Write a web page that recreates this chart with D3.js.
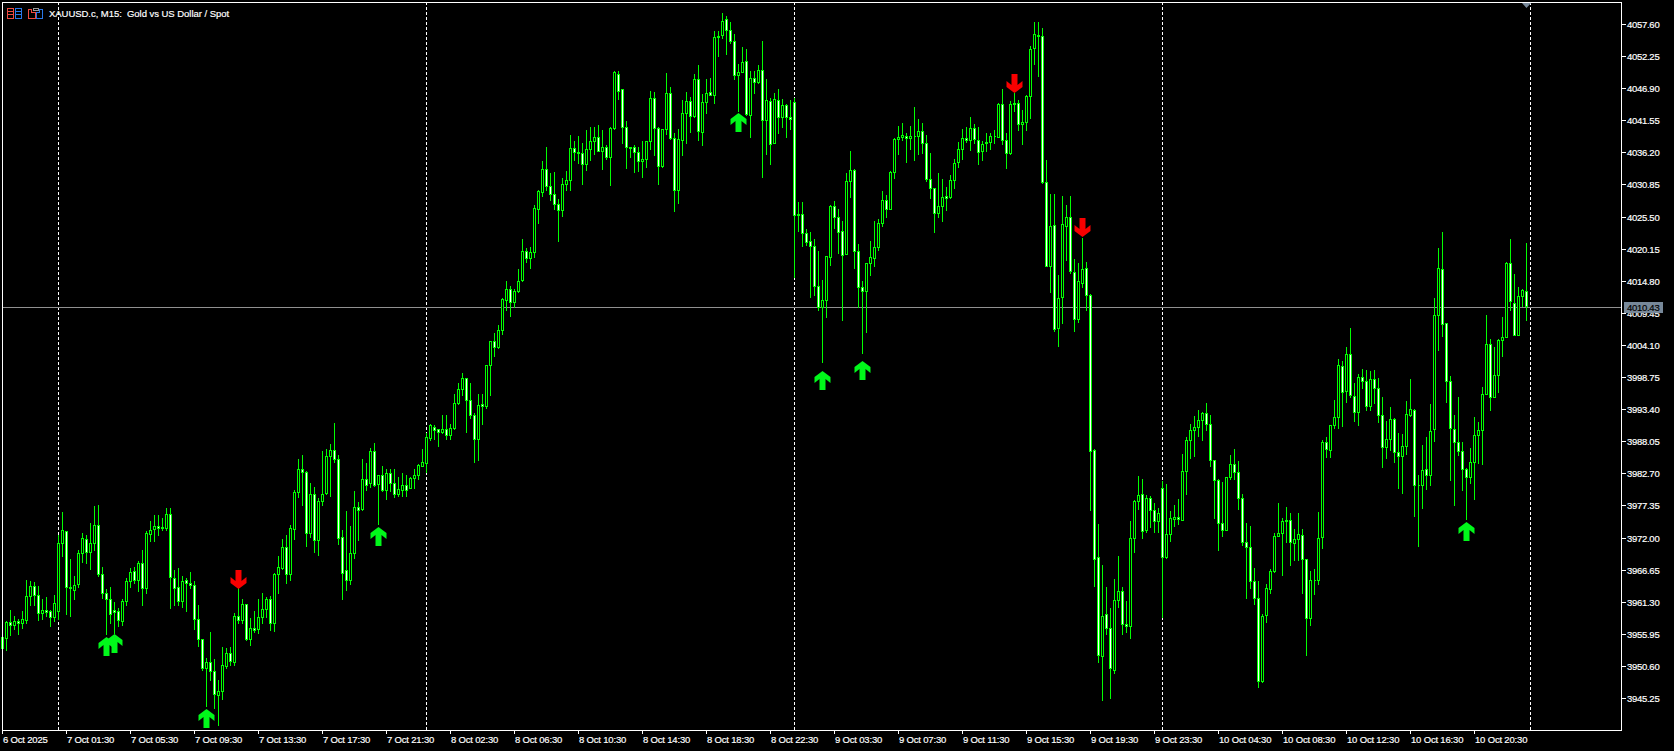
<!DOCTYPE html>
<html><head><meta charset="utf-8">
<script src="https://cdn.jsdelivr.net/npm/d3@7/dist/d3.min.js"></script>
<style>
html,body{margin:0;padding:0;background:#000;overflow:hidden}
svg{display:block}
text{font-family:"Liberation Sans",Arial,sans-serif;font-size:9.5px;letter-spacing:-0.28px;fill:#fff;stroke:#fff;stroke-width:.18px;white-space:pre}
</style></head><body>
<script>
const title = "XAUUSD.c, M15:  Gold vs US Dollar / Spot";
const currentPrice = 4010.43;
const priceTicks = [4057.60,4052.25,4046.90,4041.55,4036.20,4030.85,4025.50,4020.15,4014.80,4009.45,4004.10,3998.75,3993.40,3988.05,3982.70,3977.35,3972.00,3966.65,3961.30,3955.95,3950.60,3945.25];
const timeLabels = ["6 Oct 2025","7 Oct 01:30","7 Oct 05:30","7 Oct 09:30","7 Oct 13:30","7 Oct 17:30","7 Oct 21:30","8 Oct 02:30","8 Oct 06:30","8 Oct 10:30","8 Oct 14:30","8 Oct 18:30","8 Oct 22:30","9 Oct 03:30","9 Oct 07:30","9 Oct 11:30","9 Oct 15:30","9 Oct 19:30","9 Oct 23:30","10 Oct 04:30","10 Oct 08:30","10 Oct 12:30","10 Oct 16:30","10 Oct 20:30"];
const dayBreaks = [14,106,198,290,382];
const upSignalBars = [26,28,51,94,184,205,215,366];
const upSignalPrices = [3955.4,3955.9,3943.4,3973.8,4042.8,3999.8,4001.4,3974.6];
const downSignalBars = [59,253,270];
const downSignalPrices = [3963.4,4046.1,4022.1];

const open = [3953.6,3955.3,3957.9,3957.5,3958.1,3957.8,3958.3,3962.3,3963.9,3962.4,
3959.5,3959.9,3959.7,3958.7,3959.7,3971.1,3973.1,3963.8,3963.3,3964.2,
3969.5,3971.8,3969.6,3971.1,3974.1,3965.9,3962.8,3961.8,3959.9,3959.8,
3958.1,3961.5,3964.7,3966.5,3964.9,3967.8,3963.6,3972.6,3973.5,3973.9,
3973.7,3973.6,3976.0,3965.2,3963.8,3961.4,3965.0,3964.5,3964.1,3958.5,
3955.1,3950.3,3951.3,3949.8,3945.8,3946.5,3950.6,3952.8,3951.3,3958.9,
3958.2,3961.0,3955.1,3956.9,3956.8,3958.8,3960.1,3961.8,3957.8,3966.0,
3967.0,3970.5,3965.9,3973.5,3979.6,3983.5,3983.0,3972.8,3979.3,3971.6,
3978.1,3979.4,3985.6,3986.6,3985.1,3972.1,3966.6,3965.0,3969.4,3977.1,
3976.7,3981.8,3981.1,3986.5,3980.9,3982.5,3980.0,3982.7,3981.1,3979.2,
3980.0,3980.8,3980.2,3981.9,3982.4,3984.0,3984.4,3988.6,3990.5,3990.1,
3989.6,3990.1,3989.1,3990.3,3994.4,3996.7,3998.6,3995.0,3992.5,3988.5,
3994.3,3993.9,4000.8,4004.8,4003.7,4006.6,4011.6,4013.5,4011.2,4013.1,
4015.0,4019.7,4018.6,4019.6,4026.8,4029.6,4033.5,4030.6,4029.2,4027.6,
4026.6,4030.9,4031.6,4036.9,4036.3,4036.1,4034.3,4036.8,4038.1,4038.8,
4036.4,4037.1,4035.4,4040.2,4049.3,4046.7,4040.5,4037.1,4037.1,4036.2,
4034.7,4035.1,4038.1,4045.3,4040.3,4033.9,4040.1,4046.1,4038.6,4029.9,
4038.2,4042.8,4044.8,4042.2,4048.4,4039.6,4044.6,4046.2,4045.7,4055.6,
4055.7,4058.4,4056.6,4054.7,4049.1,4049.6,4051.5,4042.4,4048.6,4047.9,
4050.0,4041.6,4044.7,4037.8,4045.0,4042.1,4044.1,4042.1,4044.6,4026.0,
4026.0,4022.8,4021.5,4020.6,4014.0,4010.5,4011.6,4018.8,4027.3,4025.5,
4023.1,4019.2,4031.5,4033.3,4019.8,4013.8,4013.1,4017.8,4018.6,4020.5,
4024.5,4028.3,4026.8,4033.0,4038.4,4038.8,4038.9,4038.6,4039.0,4038.9,
4039.8,4037.8,4031.8,4030.2,4026.1,4027.2,4028.9,4028.7,4031.6,4034.6,
4036.8,4038.6,4038.3,4040.3,4038.3,4036.4,4037.9,4037.9,4038.9,4038.7,
4044.3,4038.3,4036.1,4044.5,4044.5,4040.9,4041.3,4045.6,4053.6,4055.8,
4055.6,4031.2,4017.2,4024.1,4006.9,4012.1,4023.9,4025.5,4016.2,4008.4,
4014.5,4017.0,4012.5,3986.6,3968.8,3952.2,3959.3,3956.9,3949.9,3961.6,
3963.1,3957.6,3957.2,3971.9,3978.1,3979.2,3973.2,3978.6,3976.6,3974.7,
3980.3,3968.7,3972.6,3975.1,3975.5,3975.0,3983.1,3988.3,3990.0,3990.4,
3991.6,3992.8,3991.0,3985.0,3981.6,3974.5,3973.2,3982.1,3984.3,3983.0,
3978.6,3971.3,3970.5,3964.7,3962.0,3948.1,3959.1,3963.5,3966.4,3972.3,
3972.8,3975.0,3975.0,3971.1,3971.8,3972.5,3968.5,3958.6,3964.9,3964.9,
3972.1,3988.0,3986.6,3990.8,3992.1,4000.6,3996.4,4002.6,3995.6,3992.9,
3998.8,3998.1,3993.9,3998.5,3996.9,3992.5,3987.1,3988.5,3991.7,3986.3,
3985.6,3987.2,3992.5,3993.2,3980.8,3980.8,3983.5,3982.5,3990.1,4009.1,
4016.8,4007.7,3998.1,3990.1,3988.0,3986.5,3983.5,3982.1,3984.6,3989.1,
3990.0,3995.9,4004.3,3995.5,3999.1,4005.0,4005.5,4017.8,4011.1,4005.7,
4012.3,4013.1];

const high = [3955.4,3958.1,3960.0,3959.0,3958.5,3959.7,3965.0,3964.7,3964.6,3964.0,
3961.7,3962.1,3960.0,3962.5,3972.5,3976.3,3973.1,3968.5,3965.6,3970.0,
3972.7,3972.5,3974.5,3977.3,3977.5,3967.1,3963.5,3963.8,3961.3,3960.3,
3961.7,3965.2,3967.0,3967.1,3968.1,3969.9,3973.1,3974.7,3975.7,3975.7,
3975.3,3977.0,3977.0,3966.6,3967.0,3965.6,3965.3,3966.2,3964.7,3960.8,
3955.1,3952.0,3956.3,3951.7,3948.3,3953.7,3953.6,3953.7,3959.5,3963.6,
3961.8,3961.0,3958.6,3959.8,3961.7,3962.8,3962.1,3962.2,3966.1,3969.0,
3971.8,3972.5,3974.1,3980.0,3985.1,3985.7,3983.1,3981.1,3980.5,3978.6,
3986.5,3986.8,3987.6,3991.1,3985.7,3973.2,3976.4,3973.9,3979.7,3978.0,
3985.1,3984.5,3987.0,3987.8,3982.5,3984.0,3983.4,3983.4,3983.5,3982.1,
3982.8,3982.5,3982.1,3983.5,3984.2,3986.7,3989.4,3990.9,3990.7,3990.1,
3992.4,3992.4,3991.0,3996.0,3997.7,3999.4,3998.6,3997.8,3992.7,3995.9,
3996.0,4000.8,4004.8,4006.1,4007.4,4011.9,4014.7,4013.9,4013.4,4016.7,
4021.7,4020.3,4020.5,4027.4,4029.9,4034.7,4037.1,4032.8,4033.0,4028.4,
4032.0,4033.1,4039.1,4038.1,4038.9,4037.8,4039.9,4040.4,4040.4,4040.7,
4040.0,4037.5,4040.5,4049.7,4049.7,4046.8,4041.4,4037.1,4037.5,4037.1,
4038.1,4038.1,4046.5,4046.3,4040.5,4040.1,4049.5,4047.1,4039.4,4040.1,
4045.0,4046.3,4045.5,4049.3,4050.8,4045.9,4048.5,4048.6,4056.5,4056.4,
4059.4,4059.0,4058.0,4056.0,4050.9,4053.7,4053.4,4049.7,4049.7,4050.7,
4054.8,4048.5,4045.3,4046.1,4046.7,4045.1,4044.2,4045.0,4045.3,4027.9,
4028.0,4023.5,4022.9,4021.7,4019.7,4015.0,4019.0,4027.5,4028.1,4026.7,
4024.7,4032.8,4036.5,4033.4,4021.0,4014.7,4017.8,4021.5,4024.7,4025.1,
4029.7,4029.1,4033.1,4038.6,4040.6,4041.1,4039.4,4040.6,4043.8,4041.7,
4041.1,4039.1,4036.1,4030.2,4032.8,4031.7,4030.5,4032.5,4035.1,4038.0,
4040.1,4040.5,4042.1,4040.9,4040.4,4038.1,4039.5,4039.5,4040.0,4044.4,
4046.8,4039.4,4044.8,4046.1,4044.9,4043.2,4045.7,4053.9,4058.0,4057.9,
4056.9,4034.9,4029.2,4029.2,4015.7,4028.9,4027.4,4028.9,4018.5,4017.7,
4021.9,4018.0,4012.6,3986.7,3974.3,3967.5,3963.7,3960.2,3965.1,3968.9,
3963.8,3961.5,3974.7,3978.3,3982.2,3981.7,3979.1,3978.9,3977.8,3977.0,
3981.5,3980.9,3976.5,3977.4,3978.5,3986.0,3988.7,3991.0,3992.3,3993.2,
3993.0,3994.5,3992.5,3985.0,3981.8,3981.3,3982.1,3985.8,3986.8,3984.8,
3979.3,3974.5,3974.0,3967.0,3964.7,3959.2,3964.2,3966.8,3972.8,3977.8,
3975.2,3977.1,3976.1,3973.5,3976.1,3973.5,3968.5,3966.5,3966.8,3976.3,
3988.3,3988.8,3990.8,3995.0,4001.7,4001.4,4003.7,4006.9,3997.7,3999.2,
4000.1,4000.0,3999.7,3999.9,3998.6,3995.4,3991.5,3993.7,3991.9,3989.5,
3989.2,3994.7,3998.4,3993.4,3982.5,3987.4,3988.7,3994.2,4012.0,4020.2,
4023.0,4007.8,3999.0,3992.5,3995.4,3988.0,3983.6,3987.0,3992.1,3991.2,
3997.1,4009.1,4005.1,4003.8,4005.1,4008.7,4017.9,4021.7,4015.9,4013.8,
4013.5,4021.1];

const low = [3952.0,3953.2,3955.7,3956.8,3956.0,3957.0,3957.8,3960.8,3960.8,3958.3,
3958.5,3958.9,3957.3,3958.1,3958.5,3968.9,3959.2,3958.9,3961.7,3963.8,
3967.9,3967.8,3966.7,3970.0,3965.6,3962.0,3956.0,3957.7,3956.1,3957.3,
3957.5,3960.8,3963.8,3964.5,3963.1,3960.8,3962.8,3971.4,3971.4,3972.5,
3973.3,3973.3,3960.3,3960.7,3960.7,3960.5,3959.7,3963.6,3956.7,3953.9,
3949.9,3943.9,3948.3,3943.5,3940.8,3945.0,3950.3,3950.8,3950.8,3957.7,
3957.8,3955.0,3954.1,3956.3,3956.1,3957.8,3958.8,3956.6,3956.4,3962.8,
3966.8,3964.4,3965.0,3971.7,3978.7,3977.5,3970.6,3972.1,3969.6,3969.1,
3977.5,3979.3,3979.0,3984.6,3971.0,3961.7,3963.2,3964.2,3968.6,3971.6,
3976.6,3980.0,3980.5,3980.6,3974.2,3979.7,3978.4,3979.7,3978.7,3979.0,
3979.0,3979.0,3980.2,3980.2,3981.8,3983.9,3982.9,3988.2,3988.5,3987.2,
3989.5,3988.5,3988.5,3990.1,3994.2,3995.7,3989.6,3992.0,3984.6,3984.9,
3991.0,3993.6,3995.7,4002.2,4003.6,4006.0,4010.0,4008.9,4010.5,4012.9,
4014.7,4017.9,4017.0,4018.7,4024.5,4028.9,4030.0,4028.2,4026.7,4021.4,
4025.6,4030.0,4030.0,4035.0,4034.5,4031.0,4033.2,4035.0,4036.0,4036.4,
4033.4,4035.1,4030.7,4040.1,4045.1,4037.8,4033.6,4035.4,4033.0,4033.1,
4032.1,4033.7,4036.7,4035.7,4031.0,4033.7,4039.2,4038.4,4026.4,4027.7,
4035.7,4037.7,4039.6,4042.1,4038.2,4037.4,4042.7,4045.7,4044.4,4052.2,
4055.2,4052.6,4054.5,4048.4,4043.1,4049.6,4042.5,4038.7,4046.1,4047.7,
4032.1,4035.9,4034.2,4037.7,4039.5,4040.5,4038.7,4040.1,4015.5,4023.1,
4020.6,4020.7,4012.1,4012.4,4010.0,4001.2,4008.8,4017.5,4023.6,4019.5,
4008.2,4019.2,4028.7,4017.0,4010.5,4002.8,4006.2,4015.7,4017.2,4020.0,
4023.9,4025.4,4026.7,4031.9,4036.0,4038.2,4034.6,4036.7,4035.0,4036.0,
4036.1,4031.4,4028.6,4022.9,4025.5,4024.7,4026.6,4028.6,4030.2,4033.7,
4035.1,4038.0,4036.6,4037.7,4034.2,4034.9,4036.4,4036.7,4037.8,4038.7,
4037.6,4033.6,4036.0,4043.1,4040.0,4037.6,4039.9,4041.9,4051.0,4048.9,
4031.1,4017.2,4012.9,4006.4,4004.0,4007.7,4018.2,4016.1,4006.4,4008.0,
4013.8,4009.9,3976.6,3963.9,3951.2,3944.9,3955.9,3945.2,3949.4,3960.4,
3955.9,3956.3,3955.2,3969.6,3976.7,3971.9,3973.0,3973.8,3973.0,3973.0,
3958.8,3968.6,3971.5,3973.9,3974.3,3974.9,3979.2,3985.2,3985.6,3988.9,
3988.2,3989.9,3983.9,3975.3,3970.0,3972.3,3973.2,3981.7,3981.8,3976.7,
3970.8,3962.0,3963.6,3960.9,3947.1,3948.0,3957.9,3962.7,3966.2,3972.2,
3965.7,3971.3,3967.5,3968.2,3968.3,3962.8,3952.5,3957.5,3962.6,3964.3,
3970.2,3985.5,3985.4,3990.2,3990.2,3990.6,3994.6,3995.5,3991.4,3990.7,
3996.9,3993.2,3993.2,3994.5,3991.2,3983.7,3985.2,3986.6,3984.6,3980.2,
3979.4,3986.0,3992.2,3975.6,3970.6,3976.9,3980.1,3980.7,3988.1,4003.2,
4005.6,3994.6,3981.6,3977.4,3985.8,3979.9,3975.1,3981.1,3978.5,3984.5,
3984.2,3995.9,3993.2,3995.4,3996.2,4002.2,4005.5,4009.9,4005.7,4005.7,
4010.6,4008.2];

const close = [3955.35,3958.0,3957.5,3958.1,3957.7,3958.5,3962.3,3964.0,3962.5,3959.4,
3959.9,3959.6,3958.8,3961.1,3971.1,3973.2,3963.8,3963.6,3964.1,3969.5,
3971.9,3969.6,3971.1,3974.1,3965.9,3962.8,3961.8,3959.2,3959.6,3958.2,
3961.5,3964.8,3966.3,3964.9,3967.8,3963.6,3972.7,3973.3,3973.9,3973.6,
3973.6,3976.0,3965.5,3963.6,3961.4,3964.8,3964.5,3964.1,3958.5,3955.1,
3950.2,3951.3,3949.8,3945.9,3946.5,3950.7,3952.7,3951.4,3959.0,3958.2,
3961.0,3955.1,3957.0,3956.6,3958.8,3960.1,3961.8,3957.8,3966.0,3967.1,
3970.5,3965.9,3973.6,3979.6,3983.5,3982.9,3972.7,3979.3,3971.6,3978.1,
3979.3,3985.6,3986.6,3985.1,3971.9,3966.1,3965.0,3969.5,3977.1,3976.6,
3981.8,3980.7,3986.5,3980.8,3982.5,3980.0,3982.7,3981.1,3979.3,3980.1,
3980.8,3980.0,3982.0,3982.5,3984.1,3984.6,3988.7,3990.7,3990.0,3989.6,
3990.1,3989.1,3990.3,3994.5,3996.8,3998.6,3995.0,3992.4,3988.5,3994.1,
3993.9,4000.8,4004.8,4003.8,4006.6,4011.7,4013.5,4011.2,4013.1,4014.8,
4019.8,4018.6,4019.6,4027.0,4029.7,4033.5,4030.6,4029.2,4027.6,4026.6,
4031.0,4031.6,4037.0,4036.2,4036.1,4034.3,4036.8,4038.1,4038.8,4036.4,
4037.1,4035.4,4040.3,4049.6,4046.4,4040.5,4037.1,4037.0,4036.2,4034.7,
4035.1,4038.1,4045.3,4040.3,4033.9,4040.1,4046.1,4038.6,4029.9,4038.5,
4042.8,4044.8,4042.2,4048.4,4039.7,4044.6,4046.1,4045.7,4055.5,4055.5,
4058.1,4056.6,4054.7,4049.1,4049.6,4051.3,4042.6,4048.6,4047.9,4050.0,
4041.6,4045.0,4037.6,4045.1,4042.1,4044.1,4042.1,4041.8,4025.8,4025.8,
4022.8,4021.3,4020.6,4014.0,4010.5,4011.6,4018.9,4027.3,4025.5,4023.0,
4019.1,4031.5,4033.3,4019.8,4013.8,4013.1,4017.8,4018.8,4020.5,4024.5,
4028.3,4026.8,4033.0,4038.5,4038.8,4039.1,4038.6,4039.0,4039.0,4039.8,
4037.8,4031.7,4030.2,4026.1,4027.2,4028.8,4028.6,4031.6,4034.5,4036.8,
4038.6,4038.3,4040.3,4038.5,4036.2,4037.6,4037.7,4038.9,4038.9,4044.3,
4038.2,4036.1,4044.3,4044.2,4040.9,4041.3,4045.6,4053.5,4056.0,4055.6,
4031.2,4017.2,4024.0,4006.8,4011.9,4024.3,4025.5,4016.4,4008.4,4014.8,
4016.8,4012.5,3986.5,3968.5,3952.4,3959.0,3956.9,3950.2,3961.6,3963.1,
3957.6,3957.2,3972.0,3978.1,3979.1,3973.1,3978.6,3976.6,3974.7,3976.1,
3968.7,3972.6,3975.3,3975.5,3975.1,3983.1,3988.3,3990.0,3990.5,3991.6,
3992.8,3990.9,3985.0,3981.6,3974.5,3973.2,3982.1,3984.3,3982.9,3978.6,
3971.2,3970.4,3964.7,3962.0,3948.1,3959.0,3963.6,3966.5,3972.3,3972.8,
3974.8,3974.7,3971.2,3971.8,3972.6,3968.5,3958.6,3965.0,3965.0,3972.0,
3988.0,3986.7,3990.8,3992.1,4000.7,3996.2,4002.6,3995.7,3992.9,3998.8,
3998.1,3993.9,3998.5,3996.9,3992.4,3987.1,3988.5,3991.7,3986.2,3985.6,
3987.3,3992.6,3993.5,3980.8,3980.7,3983.3,3982.5,3989.8,4009.1,4017.0,
4007.6,3998.1,3990.3,3988.0,3986.5,3983.5,3982.1,3984.6,3989.1,3990.0,
3996.0,4004.3,3995.5,3999.1,4005.0,4005.5,4017.8,4011.4,4005.7,4012.3,
4013.2,4010.6];

const W = 1674, H = 751, L = 2, R = 1621, T = 2, B = 730;
const x = d3.scaleLinear().domain([0, 1]).range([2, 6]);
const y = d3.scaleLinear().domain([4057.6, 3945.25]).rangeRound([24, 698]);

const svg = d3.select("body").append("svg").attr("width", W).attr("height", H)
  .style("background", "#000");

// period separators
svg.append("g").selectAll("line").data(dayBreaks).join("line")
  .attr("x1", d => x(d) + .5).attr("x2", d => x(d) + .5)
  .attr("y1", T).attr("y2", B)
  .attr("stroke", "#fff").attr("stroke-dasharray", "3,2").attr("shape-rendering", "crispEdges");

// bid line
svg.append("line").attr("x1", L).attr("x2", R)
  .attr("y1", y(currentPrice) + .5).attr("y2", y(currentPrice) + .5)
  .attr("stroke", "#909090").attr("shape-rendering", "crispEdges");

// candles
const idx = d3.range(open.length);
const g = svg.append("g").attr("shape-rendering", "crispEdges");
g.selectAll("line").data(idx).join("line")
  .attr("x1", i => x(i) + .5).attr("x2", i => x(i) + .5)
  .attr("y1", i => y(high[i])).attr("y2", i => y(low[i]) + 1)
  .attr("stroke", "#00ff00");
g.selectAll("path").data(idx).join("path")
  .attr("d", i => {
    const t = y(Math.max(open[i], close[i])) + .5, b = y(Math.min(open[i], close[i])) + .5, l = x(i) - .5;
    return `M${l},${t}H${l + 2}V${b}H${l}Z`;
  })
  .attr("fill", i => close[i] < open[i] ? "#fff" : "#000")
  .attr("stroke", "#00ff00");

// signal arrows
const upArrow = "M0,0L8,6V12L3,8V19H-3V8L-8,12V6Z";
const downArrow = "M0,0L8,-6V-12L3,-8V-19H-3V-8L-8,-12V-6Z";
svg.append("g").selectAll("path").data(upSignalBars).join("path")
  .attr("d", upArrow).attr("fill", "#00f81a")
  .attr("transform", (d, i) => `translate(${x(d) + .5},${y(upSignalPrices[i])})`);
svg.append("g").selectAll("path").data(downSignalBars).join("path")
  .attr("d", downArrow).attr("fill", "#f80000")
  .attr("transform", (d, i) => `translate(${x(d) + .5},${y(downSignalPrices[i])})`);

// frame
svg.append("rect").attr("x", L + .5).attr("y", T + .5).attr("width", R - L).attr("height", B - T)
  .attr("fill", "none").attr("stroke", "#fff").attr("shape-rendering", "crispEdges");

// price axis
const yAxis = svg.append("g").attr("transform", `translate(${R},0)`)
  .call(d3.axisRight(y).tickValues(priceTicks).tickFormat(d3.format(".2f")).tickSize(5).tickPadding(1));
yAxis.select(".domain").remove();
yAxis.selectAll("line").attr("stroke", "#fff").attr("shape-rendering", "crispEdges");
yAxis.selectAll("text").attr("fill", "#fff").attr("font-family", null).attr("font-size", null).attr("dy", ".36em");

// time axis
const tickBars = timeLabels.map((_, i) => i * 16);
const xAxis = svg.append("g").attr("transform", `translate(0,${B})`)
  .call(d3.axisBottom(x).tickValues(tickBars).tickFormat((d, i) => timeLabels[i]).tickSize(4));
xAxis.select(".domain").remove();
xAxis.selectAll("line").attr("stroke", "#fff").attr("shape-rendering", "crispEdges");
xAxis.selectAll("text").attr("fill", "#fff").attr("text-anchor", "start").attr("y", 13).attr("dy", 0).attr("x", 0.5)
  .style("letter-spacing", "-0.18px");

// current price label
const py = y(currentPrice);
svg.append("rect").attr("x", 1624).attr("y", py - 5).attr("width", 39).attr("height", 11).attr("fill", "#778899");
svg.append("text").attr("x", 1627).attr("y", py + 4).style("fill", "#000").style("stroke", "#000").text(currentPrice.toFixed(2));

// shift marker
svg.append("path").attr("d", `M${x(381) - 4},3H${x(381) + 5}L${x(381) + .5},8Z`).attr("fill", "#778899");

// title
svg.append("text").attr("x", 49).attr("y", 17).style("letter-spacing", "-0.04px").text(title);

// toolbar icons
const ic = svg.append("g").attr("shape-rendering", "crispEdges");
[[7.5, "#f04a40"], [15.5, "#2a78e8"]].forEach(([ix, c]) => {
  ic.append("rect").attr("x", ix).attr("y", 8.5).attr("width", 6).attr("height", 9.5).attr("fill", "none").attr("stroke", c);
  [11.5, 14.5].forEach(ly => ic.append("line").attr("x1", ix).attr("x2", ix + 6).attr("y1", ly).attr("y2", ly).attr("stroke", c));
});
ic.append("path").attr("d", "M28.5,9.5H31.5V12.5H35.5V18.5H28.5Z").attr("fill", "none").attr("stroke", "#f04a40");
ic.append("path").attr("d", "M36.5,18.5V12.5H39.5V9.5H42.5V18.5Z").attr("fill", "none").attr("stroke", "#2a78e8");
ic.append("rect").attr("x", 33.5).attr("y", 8.5).attr("width", 5).attr("height", 2).attr("fill", "none").attr("stroke", "#999");
</script>
</body></html>
